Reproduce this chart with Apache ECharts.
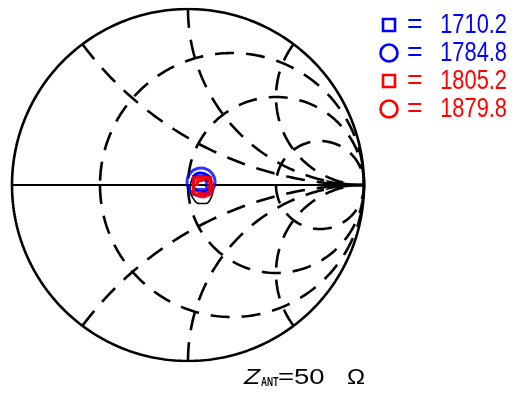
<!DOCTYPE html>
<html><head><meta charset="utf-8">
<script src="https://cdn.jsdelivr.net/npm/echarts@6/dist/echarts.min.js"></script>
<style>html,body{margin:0;padding:0;background:#fff}#c{width:516px;height:399px}</style>
</head><body><div id="c"></div>
<script>
// ---- Smith chart grid values (normalized impedance) ----
const resistanceValues = [1/3, 1, 3];
const reactanceValues = [0.5, 1, 2, -0.5, -1, -2];

const blackTraceRe = [0.045, 0.017, 0.011, 0.028, 0.062, 0.102, 0.130, 0.142, 0.130];
const blackTraceIm = [0.051, 0.017, -0.028, -0.074, -0.105, -0.105, -0.074, -0.034, 0.000];
const blueTraceRe = [0.023, 0.034, 0.068, 0.108, 0.130, 0.119, 0.085, 0.045, 0.028];
const blueTraceIm = [0.011, 0.051, 0.068, 0.057, 0.023, -0.023, -0.040, -0.028, 0.000];
const redTraceRe = [0.051, 0.062, 0.096, 0.125, 0.119, 0.085, 0.057];
const redTraceIm = [-0.006, 0.023, 0.028, 0.006, -0.034, -0.051, -0.034];

// ---- frequency markers ----
const markerNames = ['1710.2', '1784.8', '1805.2', '1879.8'];
const markerColors = ['#0000ff', '#0000ff', '#ff0000', '#ff0000'];
const markerShapes = ['square', 'circle', 'square', 'circle'];
const markerRe = [0.068, 0.074, 0.079, 0.085];
const markerIm = [0.011, 0.017, -0.006, -0.011];

const titleMain = 'Z';
const titleSub = 'ANT';
const titleValue = '=50';
const titleUnit = '\u03A9';

// ---- geometry helpers ----
function arc(cx, cy, rad, a0, a1, n) {
  const pts = [];
  for (let i = 0; i <= n; i++) {
    const a = a0 + (a1 - a0) * i / n;
    pts.push([cx + rad * Math.cos(a), cy + rad * Math.sin(a)]);
  }
  return pts;
}
function resistanceCircle(r) {
  return arc(r / (1 + r), 0, 1 / (1 + r), Math.PI, 3 * Math.PI, 360);
}
function reactanceArc(x) {
  const ax = Math.abs(x);
  const dx = -2 / (ax * ax + 1), dy = (ax * ax - 1) / (ax * (ax * ax + 1));
  let a0 = Math.atan2(dy, dx); if (a0 < 0) a0 += 2 * Math.PI;
  const pts = arc(1, 1 / ax, 1 / ax, a0, 1.5 * Math.PI, 240);
  return x < 0 ? pts.map(p => [p[0], -p[1]]) : pts;
}
const zip = (a, b) => a.map((v, i) => [v, b[i]]);

const gridLine = { color: '#000', width: 2.6, type: [19, 12] };
const series = [];
resistanceValues.forEach(r => series.push({ type: 'line', data: resistanceCircle(r), showSymbol: false, lineStyle: gridLine, silent: true, z: 1 }));
reactanceValues.forEach(x => series.push({ type: 'line', data: reactanceArc(x), showSymbol: false, lineStyle: gridLine, silent: true, z: 1 }));
series.push({ type: 'line', data: arc(0, 0, 1, 0, 2 * Math.PI, 360), showSymbol: false, lineStyle: { color: '#000', width: 2.6 }, silent: true, z: 2 });
series.push({ type: 'line', data: [], silent: true, z: 3,
  markLine: { silent: true, symbol: ['none', 'arrow'], symbolSize: [8, 26], label: { show: false },
    lineStyle: { color: '#000', width: 2, type: 'solid' },
    data: [[{ coord: [-1, 0] }, { coord: [1 - 13 / 176, 0] }]] } });
series.push({ type: 'line', data: zip(blackTraceRe, blackTraceIm), showSymbol: false, lineStyle: { color: '#000', width: 1.5 }, smooth: true, silent: true, z: 4 });
series.push({ type: 'line', data: zip(blueTraceRe, blueTraceIm), showSymbol: false, lineStyle: { color: '#0000ff', width: 3 }, smooth: true, silent: true, z: 5 });
series.push({ type: 'line', data: zip(redTraceRe, redTraceIm), showSymbol: false, lineStyle: { color: '#ff0000', width: 3 }, smooth: true, silent: true, z: 6 });
const markerSizes = [13, 28, 17, 20];
markerNames.forEach((n, i) => series.push({
  type: 'scatter', name: n, data: [[markerRe[i], markerIm[i]]], silent: true, z: 7 + i,
  symbol: markerShapes[i] === 'square' ? 'rect' : 'circle', symbolSize: markerSizes[i],
  itemStyle: { color: 'rgba(0,0,0,0)', borderColor: markerColors[i], borderWidth: 3 }
}));

const legendFont = '28px "Liberation Sans", Arial, sans-serif';
const graphic = [];
markerNames.forEach((n, i) => {
  const cy = 25 + i * 28;
  if (markerShapes[i] === 'square') {
    graphic.push({ type: 'rect', shape: { x: 383, y: cy - 6, width: 12, height: 12 }, style: { fill: 'none', stroke: markerColors[i], lineWidth: 2.6 } });
  } else {
    graphic.push({ type: 'circle', shape: { cx: 389, cy: cy, r: 8.5 }, style: { fill: 'none', stroke: markerColors[i], lineWidth: 2.6 } });
  }
  graphic.push({ type: 'text', x: 407, y: cy, scaleX: 0.95, style: { text: '=', font: legendFont, fill: markerColors[i], verticalAlign: 'middle' } });
  graphic.push({ type: 'text', x: 507, y: cy, scaleX: 0.78, style: { text: n, font: legendFont, fill: markerColors[i], align: 'right', verticalAlign: 'middle' } });
});
const titleFont = '"Liberation Sans", Arial, sans-serif';
graphic.push({ type: 'text', x: 244, y: 378, scaleX: 1.2, style: { text: titleMain, font: 'italic 22px ' + titleFont, fill: '#000', verticalAlign: 'middle' } });
graphic.push({ type: 'text', x: 261, y: 382.5, scaleX: 0.7, style: { text: titleSub, font: 'bold 12px ' + titleFont, fill: '#000', verticalAlign: 'middle' } });
graphic.push({ type: 'text', x: 278, y: 378, scaleX: 1.25, style: { text: titleValue, font: '22px ' + titleFont, fill: '#000', verticalAlign: 'middle' } });
graphic.push({ type: 'text', x: 347, y: 378, scaleX: 1.1, style: { text: titleUnit, font: '22px ' + titleFont, fill: '#000', verticalAlign: 'middle' } });

const chart = echarts.init(document.getElementById('c'), null, { renderer: 'canvas' });
chart.setOption({
  animation: false,
  backgroundColor: '#fff',
  grid: { left: 12, top: 9, width: 352, height: 352 },
  xAxis: { type: 'value', min: -1, max: 1, show: false },
  yAxis: { type: 'value', min: -1, max: 1, show: false },
  series: series,
  graphic: graphic
});
</script></body></html>
